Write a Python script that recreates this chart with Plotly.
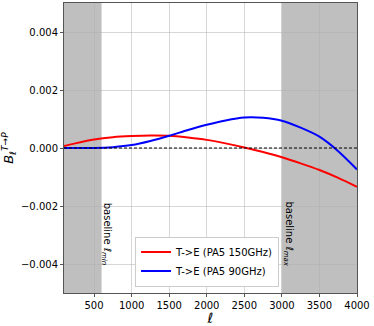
import plotly.graph_objects as go

# ---------- DATA ----------

ell = [100, 250, 500, 750, 1000, 1250, 1500, 1750, 2000, 2250, 2500, 2750, 3000, 3250, 3500, 3750, 4000]

te_150 = [0.00007, 0.00016, 0.00029, 0.00037, 0.00041, 0.00043, 0.00042, 0.00036, 0.00028, 0.00016,
          0.00002, -0.00014, -0.00032, -0.00053, -0.00076, -0.00103, -0.00134]

te_90 = [0.0, 0.0, 0.0, 0.00003, 0.0001, 0.00024, 0.00042, 0.00062, 0.0008, 0.00095,
         0.00105, 0.00104, 0.00094, 0.0007, 0.00039, -0.00011, -0.00074]

x_ticks = [500, 1000, 1500, 2000, 2500, 3000, 3500, 4000]
y_ticks = [-0.004, -0.002, 0.0, 0.002, 0.004]
y_tick_text = ["\u22120.004", "\u22120.002", "0.000", "0.002", "0.004"]

ell_min = 600
ell_max = 3000

FONT = "DejaVu Sans"

# ---------- FIGURE ----------

fig = go.Figure()

fig.add_scatter(x=ell, y=te_150, mode="lines", name="T->E (PA5 150GHz)",
                line=dict(color="red", width=2, shape="spline", smoothing=0.8))
fig.add_scatter(x=ell, y=te_90, mode="lines", name="T->E (PA5 90GHz)",
                line=dict(color="blue", width=2, shape="spline", smoothing=0.8))

# shaded baseline regions
for x0, x1 in [(100, ell_min), (ell_max, 4000)]:
    fig.add_shape(type="rect", xref="x", yref="paper", x0=x0, x1=x1, y0=0, y1=1,
                  fillcolor="#bfbfbf", line_width=0, layer="below")

# zero line
fig.add_shape(type="line", xref="paper", yref="y", x0=0, x1=1, y0=0, y1=0,
              line=dict(color="black", width=1, dash="3px,2px"))

fig.add_annotation(x=670, y=-0.00295, text="baseline <i>ℓ</i><sub><i>min</i></sub>", textangle=90,
                   showarrow=False, font=dict(family=FONT, size=10, color="black"))
fig.add_annotation(x=3083, y=-0.00295, text="baseline <i>ℓ</i><sub><i>max</i></sub>", textangle=90,
                   showarrow=False, font=dict(family=FONT, size=10, color="black"))

fig.update_layout(
    width=374, height=326,
    margin=dict(l=64, r=17, t=3, b=33),
    plot_bgcolor="white", paper_bgcolor="white",
    font=dict(family=FONT, size=10, color="black"),
    showlegend=True,
    legend=dict(x=0.734, y=0.022, xanchor="right", yanchor="bottom",
                bgcolor="white", bordercolor="#cccccc", borderwidth=1,
                font=dict(size=10), tracegroupgap=0),
)

fig.update_xaxes(range=[100, 4000], tickvals=x_ticks,
                 showgrid=True, gridcolor="rgba(176,176,176,0.5)", gridwidth=1,
                 showline=True, linecolor="#555555", linewidth=1, mirror=True,
                 ticks="outside", ticklen=3, tickcolor="#555555",
                 zeroline=False,
                 title=dict(text="<i>ℓ</i>", font=dict(size=14), standoff=0))

fig.update_yaxes(range=[-0.005, 0.005], tickvals=y_ticks, ticktext=y_tick_text,
                 showgrid=True, gridcolor="rgba(176,176,176,0.5)", gridwidth=1,
                 showline=True, linecolor="#555555", linewidth=1, mirror=True,
                 ticks="outside", ticklen=3, tickcolor="#555555",
                 zeroline=False,
                 title=dict(text="<i>B</i><sub><i>ℓ</i></sub><sup><i>T→P</i></sup>", font=dict(size=13), standoff=4))

# page body has a default margin; drop it so the figure sits at the window corner
fig.write_html("out.html", config={"displayModeBar": False},
               post_script="document.body.style.margin='0';")
